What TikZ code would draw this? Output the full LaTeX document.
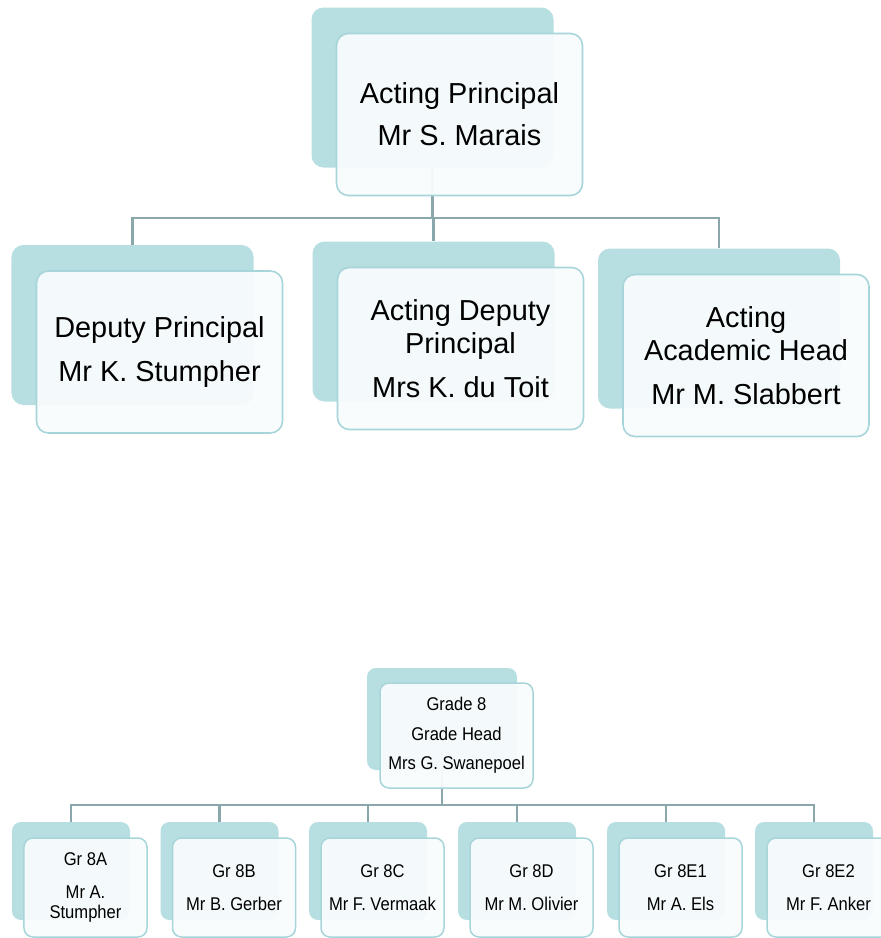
\documentclass[tikz,border=0pt]{standalone}
\usepackage{fontspec}
\setmainfont{Liberation Sans}
\newfontfamily\narrowsans[FakeStretch=0.9]{Liberation Sans}
\usepackage{tikz}
\usetikzlibrary{positioning, calc}
\definecolor{backteal}{RGB}{183, 222, 225}
\definecolor{frontline}{RGB}{168, 213, 218}
\definecolor{frontbg}{RGB}{248, 252, 253}
\definecolor{connline}{RGB}{138, 168, 172}
\tikzstyle{backbig} = [rectangle, fill=backteal, inner sep=0pt, minimum width=242bp, minimum height=160bp, rounded corners=12bp]
\tikzstyle{frontbig} = [rectangle, draw=frontline, fill=frontbg, fill opacity=0.95, text opacity=1, line width=1.6bp, minimum width=246bp, minimum height=162bp, rounded corners=12bp, align=center, font=\fontsize{29}{33}\selectfont, xshift=27bp, yshift=-27bp]
\tikzstyle{backmid} = [rectangle, fill=backteal, inner sep=0pt, minimum width=150bp, minimum height=102bp, rounded corners=9bp]
\tikzstyle{frontmid} = [rectangle, draw=frontline, fill=frontbg, fill opacity=0.95, text opacity=1, line width=1.5bp, minimum width=153bp, minimum height=105bp, rounded corners=9bp, align=center, font=\narrowsans\fontsize{18.5}{20.5}\selectfont, xshift=14.5bp, yshift=-16.5bp]
\tikzstyle{backsmall} = [rectangle, fill=backteal, inner sep=0pt, minimum width=118bp, minimum height=98bp, rounded corners=9bp]
\tikzstyle{frontsmall} = [rectangle, draw=frontline, fill=frontbg, fill opacity=0.95, text opacity=1, line width=1.5bp, minimum width=123bp, minimum height=99bp, rounded corners=9bp, align=center, font=\narrowsans\fontsize{18.5}{20.5}\selectfont, xshift=14.5bp, yshift=-16.5bp]
\tikzstyle{conn} = [draw, connline, line width=2.4bp]

\begin{document}
\begin{tikzpicture}[x=1bp, y=-1bp]
    \useasboundingbox (0,0) rectangle (881,938);

    % Back plates
    \node (principalB) [backbig] at (432.5,87.5) {};
    \node (deputyB) [backbig] at (132.5,325) {};
    \node (actdeputyB) [backbig] at (433.5,321.5) {};
    \node (academicB) [backbig] at (719,328.5) {};
    \node (gradeB) [backmid] at (442,719) {};
    \node (grAB) [backsmall] at (71,871) {};
    \node (grBB) [backsmall] at (219.5,871) {};
    \node (grCB) [backsmall] at (368,871) {};
    \node (grDB) [backsmall] at (517,871) {};
    \node (grEoneB) [backsmall] at (666,871) {};
    \node (grEtwoB) [backsmall] at (814,871) {};

    % Paths
    \coordinate (topbar) at (0,218);
    \coordinate (lowbar) at (0,805);
    \draw [conn] (principalB.south) -- (principalB.south |- topbar) -| (deputyB.north);
    \draw [conn] (principalB.south |- topbar) -| (actdeputyB.north);
    \draw [conn] (principalB.south |- topbar) -| (academicB.north);
    \draw [conn] (gradeB.south) -- (gradeB.south |- lowbar) -| (grAB.north);
    \draw [conn] (gradeB.south |- lowbar) -| (grBB.north);
    \draw [conn] (gradeB.south |- lowbar) -| (grCB.north);
    \draw [conn] (gradeB.south |- lowbar) -| (grDB.north);
    \draw [conn] (gradeB.south |- lowbar) -| (grEoneB.north);
    \draw [conn] (gradeB.south |- lowbar) -| (grEtwoB.north);

    % Nodes
    \node (principal) [frontbig] at (principalB) {Acting Principal\\[9bp]Mr S. Marais};
    \node (deputy) [frontbig] at (deputyB) {Deputy Principal\\[12bp]Mr K. Stumpher};
    \node (actdeputy) [frontbig] at (actdeputyB) {Acting Deputy\\Principal\\[11bp]Mrs K. du Toit};
    \node (academic) [frontbig] at (academicB) {Acting\\Academic Head\\[11bp]Mr M. Slabbert};
    \node (grade) [frontmid] at (gradeB) {Grade 8\\[9bp]Grade Head\\[9bp]Mrs G. Swanepoel};
    \node (grA) [frontsmall] at (grAB) {Gr 8A\\[12bp]Mr A.\\Stumpher};
    \node (grB) [frontsmall] at (grBB) {Gr 8B\\[12bp]Mr B. Gerber};
    \node (grC) [frontsmall] at (grCB) {Gr 8C\\[12bp]Mr F. Vermaak};
    \node (grD) [frontsmall] at (grDB) {Gr 8D\\[12bp]Mr M. Olivier};
    \node (grEone) [frontsmall] at (grEoneB) {Gr 8E1\\[12bp]Mr A. Els};
    \node (grEtwo) [frontsmall] at (grEtwoB) {Gr 8E2\\[12bp]Mr F. Anker};
\end{tikzpicture}
\end{document}
